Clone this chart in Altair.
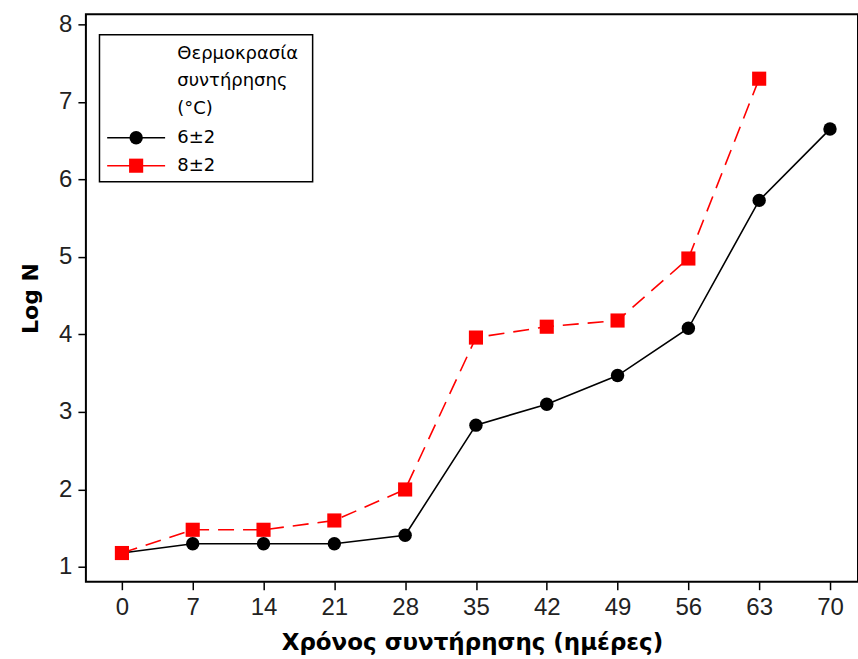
import altair as alt
import pandas as pd

days = [0, 7, 14, 21, 28, 35, 42, 49, 56, 63, 70]
log_n_6 = [1.18, 1.30, 1.30, 1.30, 1.41, 2.83, 3.10, 3.47, 4.08, 5.73, 6.65]
days_8 = [0, 7, 14, 21, 28, 35, 42, 49, 56, 63]
log_n_8 = [1.18, 1.48, 1.48, 1.60, 2.00, 3.96, 4.10, 4.18, 4.98, 7.30]
x_ticks = [0, 7, 14, 21, 28, 35, 42, 49, 56, 63, 70]
y_ticks = [1, 2, 3, 4, 5, 6, 7, 8]
legend_title = ["Θερμοκρασία", "συντήρησης", "(°C)"]
series_labels = ["6±2", "8±2"]

df6 = pd.DataFrame({"day": days, "logN": log_n_6})
df8 = pd.DataFrame({"day": days_8, "logN": log_n_8})

FONT = "Liberation Sans"
TFONT = "DejaVu Sans"
x_scale = alt.Scale(domain=[-3.56, 72.77], nice=False, zero=False)
y_scale = alt.Scale(domain=[0.81, 8.13], nice=False, zero=False)

x_enc = alt.X("day:Q", scale=x_scale,
              axis=alt.Axis(values=x_ticks, format="d", title="Χρόνος συντήρησης (ημέρες)",
                            grid=False, domain=False, tickColor="black", tickWidth=1.5,
                            tickSize=8, labelFontSize=24, labelFont=FONT, labelColor="#222222",
                            labelPadding=6, titleFont=TFONT, titleFontSize=23,
                            titleFontWeight="bold", titleColor="black", titlePadding=12))
y_enc = alt.Y("logN:Q", scale=y_scale,
              axis=alt.Axis(values=y_ticks, format="d", title="Log N",
                            grid=False, domain=False, tickColor="black", tickWidth=1.5,
                            tickSize=8, labelFontSize=24, labelFont=FONT, labelColor="#222222",
                            labelPadding=6, titleFont=TFONT, titleFontSize=22,
                            titleFontWeight="bold", titleColor="black", titlePadding=16))

line6 = alt.Chart(df6).mark_line(color="black", strokeWidth=1.6).encode(x=x_enc, y=y_enc)
pts6 = alt.Chart(df6).mark_point(shape="circle", filled=True, color="black", size=180, opacity=1).encode(x="day:Q", y="logN:Q")
line8 = alt.Chart(df8).mark_line(color="#FF0000", strokeWidth=1.6, strokeDash=[16, 9]).encode(x="day:Q", y="logN:Q")
pts8 = alt.Chart(df8).mark_point(shape="square", filled=True, color="#FF0000", size=200, opacity=1).encode(x="day:Q", y="logN:Q")

one = alt.Data(values=[{"a": 1}])
# legend (pixel positions inside the plot area)
box = alt.Chart(one).mark_rect(fill="white", stroke="black", strokeWidth=1.5).encode(
    x=alt.value(13.6), x2=alt.value(227), y=alt.value(20.5), y2=alt.value(167.5))
leg_layers = [box]
for i, t in enumerate(legend_title):
    leg_layers.append(alt.Chart(one).mark_text(text=t, align="left", baseline="middle",
                                               font="DejaVu Sans", fontSize=18, color="black").encode(
        x=alt.value(91.5), y=alt.value(39.5 + i * 27.5)))
leg_y = [123.5, 151.5]
leg_layers += [
    alt.Chart(one).mark_rule(color="black", strokeWidth=1.6).encode(
        x=alt.value(21.3), x2=alt.value(79.3), y=alt.value(leg_y[0])),
    alt.Chart(one).mark_point(shape="circle", filled=True, color="black", size=180, opacity=1).encode(
        x=alt.value(50.3), y=alt.value(leg_y[0])),
    alt.Chart(one).mark_rule(color="#FF0000", strokeWidth=1.6).encode(
        x=alt.value(21.3), x2=alt.value(79.3), y=alt.value(leg_y[1])),
    alt.Chart(one).mark_point(shape="square", filled=True, color="#FF0000", size=200, opacity=1).encode(
        x=alt.value(50.3), y=alt.value(leg_y[1])),
]
for i, t in enumerate(series_labels):
    leg_layers.append(alt.Chart(one).mark_text(text=t, align="left", baseline="middle",
                                               font="DejaVu Sans", fontSize=18, color="black").encode(
        x=alt.value(91.5), y=alt.value(leg_y[i])))

chart = alt.layer(line6, line8, pts6, pts8, *leg_layers).properties(
    width=773, height=568,
    autosize=alt.AutoSizeParams(type="none"),
    padding={"left": 86, "top": 14, "right": 0, "bottom": 77},
    background="white",
).configure_view(stroke="black", strokeWidth=2)

chart.save("out.html", embed_options={"renderer": "svg", "actions": False})
